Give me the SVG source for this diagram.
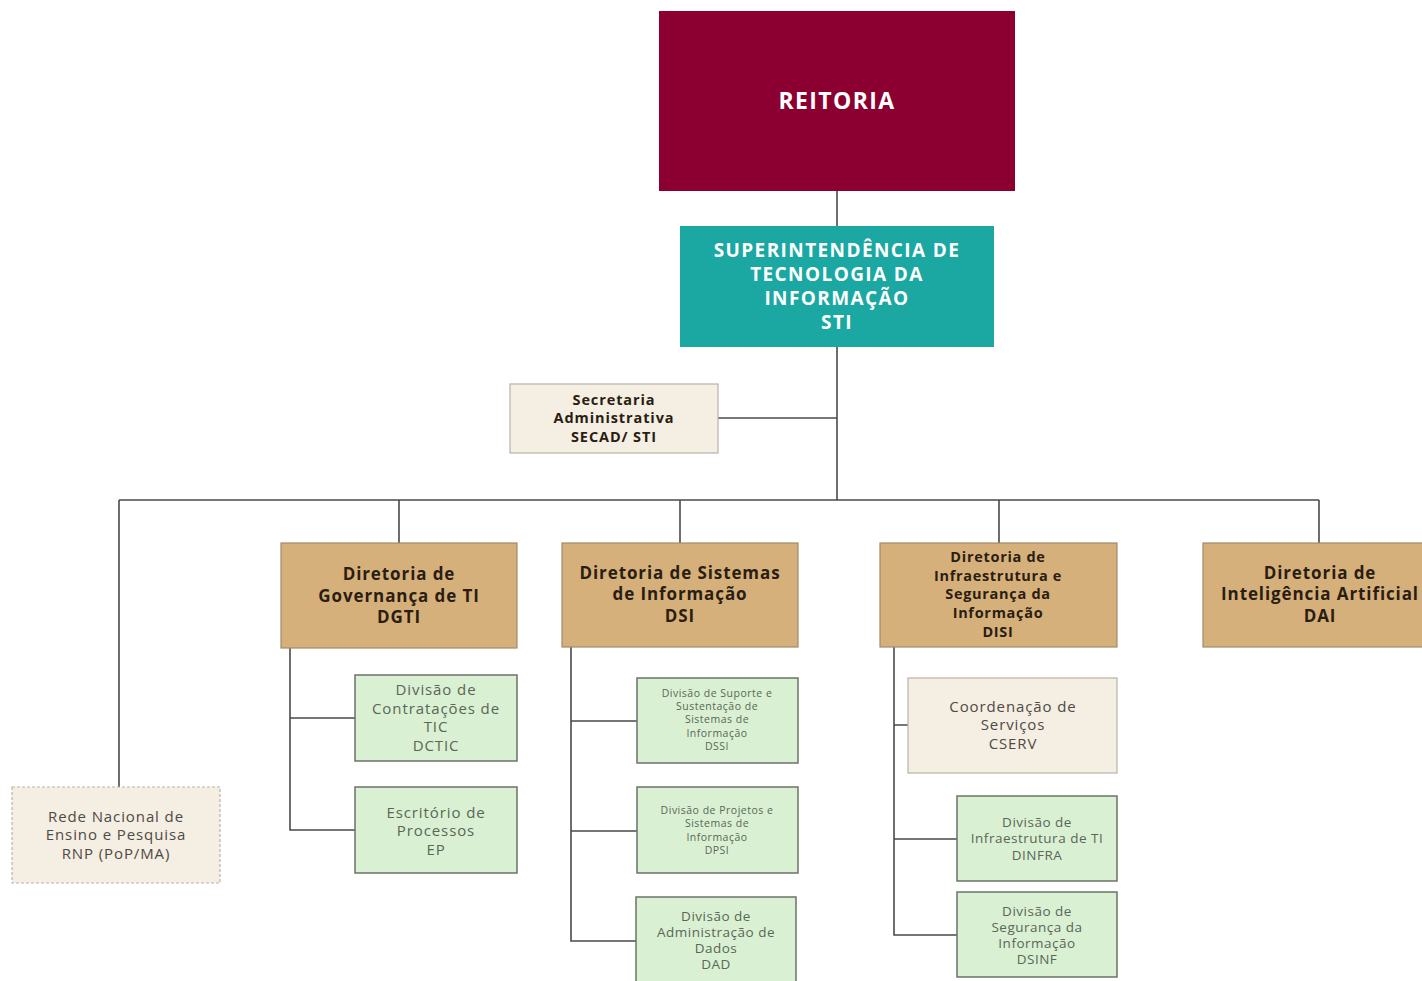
<svg xmlns="http://www.w3.org/2000/svg" width="1422" height="981" viewBox="0 0 1422 981">
<style>
text{font-family:"Open Sans","DejaVu Sans",sans-serif;text-anchor:middle}
.w{fill:#fff;font-weight:700}
.b{fill:#2a1d12;font-weight:700}
.g{fill:#5b6657}
.t{fill:#4f4a44}
.dir{fill:#d6b07a;stroke:#a08b6b;stroke-width:1.2}
.div{fill:#d9f0d3;stroke:#6a7468;stroke-width:1.5}
.beige{fill:#f4eee3;stroke:#b9b2a6;stroke-width:1.2}
.conn{fill:none;stroke:#4a4a4a;stroke-width:1.6}
.d17{font-size:17px;letter-spacing:0.9px}
.n15{font-size:15px;letter-spacing:0.9px}
.n13{font-size:13.5px;letter-spacing:0.5px}
.n10{font-size:10.5px;letter-spacing:0.5px}
</style>
<rect width="1422" height="981" fill="#fff"/>
<g id="connectors" class="conn">
<path d="M837 191V226"/>
<path d="M837 347V500"/>
<path d="M718 418H837"/>
<path d="M119 500H1319"/>
<path d="M119 500V787M399 500V543M680 500V543M999 500V543M1319 500V543"/>
<path d="M290 648V830H355M290 718H355"/>
<path d="M571 647V941H636M571 721H637M571 831H637"/>
<path d="M894 647V935H957M894 725H908M894 839H957"/>
</g>
<g id="reitoria"><rect x="659" y="11" width="356" height="180" fill="#8b0031"/><text class="w" x="837" y="109" font-size="23" letter-spacing="1.4">REITORIA</text></g>
<g id="sti"><rect x="680" y="226" width="314" height="121" fill="#1ba7a2"/>
<text class="w" font-size="19" letter-spacing="1.4"><tspan x="837" y="257">SUPERINTENDÊNCIA DE</tspan><tspan x="837" y="281">TECNOLOGIA DA</tspan><tspan x="837" y="305">INFORMAÇÃO</tspan><tspan x="837" y="329">STI</tspan></text></g>
<g id="secad"><rect class="beige" x="510" y="384" width="208" height="69"/>
<text class="b" font-size="14.5" letter-spacing="0.9"><tspan x="614" y="405">Secretaria</tspan><tspan x="614" y="423">Administrativa</tspan><tspan x="614" y="442">SECAD/ STI</tspan></text></g>
<g id="dgti"><rect class="dir" x="281" y="543" width="236" height="105"/>
<text class="b d17"><tspan x="399" y="580">Diretoria de</tspan><tspan x="399" y="602">Governança de TI</tspan><tspan x="399" y="623">DGTI</tspan></text></g>
<g id="dsi"><rect class="dir" x="562" y="543" width="236" height="104"/>
<text class="b d17"><tspan x="680" y="579">Diretoria de Sistemas</tspan><tspan x="680" y="600">de Informação</tspan><tspan x="680" y="622">DSI</tspan></text></g>
<g id="disi"><rect class="dir" x="880" y="543" width="237" height="104"/>
<text class="b" font-size="14.5" letter-spacing="0.7"><tspan x="998" y="562">Diretoria de</tspan><tspan x="998" y="581">Infraestrutura e</tspan><tspan x="998" y="599">Segurança da</tspan><tspan x="998" y="618">Informação</tspan><tspan x="998" y="637">DISI</tspan></text></g>
<g id="dai"><rect class="dir" x="1203" y="543" width="225" height="104"/>
<text class="b d17"><tspan x="1320" y="579">Diretoria de</tspan><tspan x="1320" y="600">Inteligência Artificial</tspan><tspan x="1320" y="622">DAI</tspan></text></g>
<g id="rnp"><rect class="beige" x="12" y="787" width="208" height="96" stroke-dasharray="3 2"/>
<text class="t n15"><tspan x="116" y="822">Rede Nacional de</tspan><tspan x="116" y="840">Ensino e Pesquisa</tspan><tspan x="116" y="859">RNP (PoP/MA)</tspan></text></g>
<g id="dctic"><rect class="div" x="355" y="675" width="162" height="86"/>
<text class="g n15"><tspan x="436" y="695">Divisão de</tspan><tspan x="436" y="714">Contratações de</tspan><tspan x="436" y="732">TIC</tspan><tspan x="436" y="751">DCTIC</tspan></text></g>
<g id="ep"><rect class="div" x="355" y="787" width="162" height="86"/>
<text class="g n15"><tspan x="436" y="818">Escritório de</tspan><tspan x="436" y="836">Processos</tspan><tspan x="436" y="855">EP</tspan></text></g>
<g id="dssi"><rect class="div" x="637" y="678" width="161" height="85"/>
<text class="g n10"><tspan x="717" y="697">Divisão de Suporte e</tspan><tspan x="717" y="710">Sustentação de</tspan><tspan x="717" y="723">Sistemas de</tspan><tspan x="717" y="737">Informação</tspan><tspan x="717" y="750">DSSI</tspan></text></g>
<g id="dpsi"><rect class="div" x="637" y="787" width="161" height="86"/>
<text class="g n10"><tspan x="717" y="814">Divisão de Projetos e</tspan><tspan x="717" y="827">Sistemas de</tspan><tspan x="717" y="841">Informação</tspan><tspan x="717" y="854">DPSI</tspan></text></g>
<g id="dad"><rect class="div" x="636" y="897" width="160" height="90"/>
<text class="g n13"><tspan x="716" y="921">Divisão de</tspan><tspan x="716" y="937">Administração de</tspan><tspan x="716" y="953">Dados</tspan><tspan x="716" y="969">DAD</tspan></text></g>
<g id="cserv"><rect class="beige" x="908" y="678" width="209" height="95"/>
<text class="t n15"><tspan x="1013" y="712">Coordenação de</tspan><tspan x="1013" y="730">Serviços</tspan><tspan x="1013" y="749">CSERV</tspan></text></g>
<g id="dinfra"><rect class="div" x="957" y="796" width="160" height="85"/>
<text class="g n13"><tspan x="1037" y="827">Divisão de</tspan><tspan x="1037" y="843">Infraestrutura de TI</tspan><tspan x="1037" y="860">DINFRA</tspan></text></g>
<g id="dsinf"><rect class="div" x="957" y="892" width="160" height="85"/>
<text class="g n13"><tspan x="1037" y="916">Divisão de</tspan><tspan x="1037" y="932">Segurança da</tspan><tspan x="1037" y="948">Informação</tspan><tspan x="1037" y="964">DSINF</tspan></text></g>
</svg>
